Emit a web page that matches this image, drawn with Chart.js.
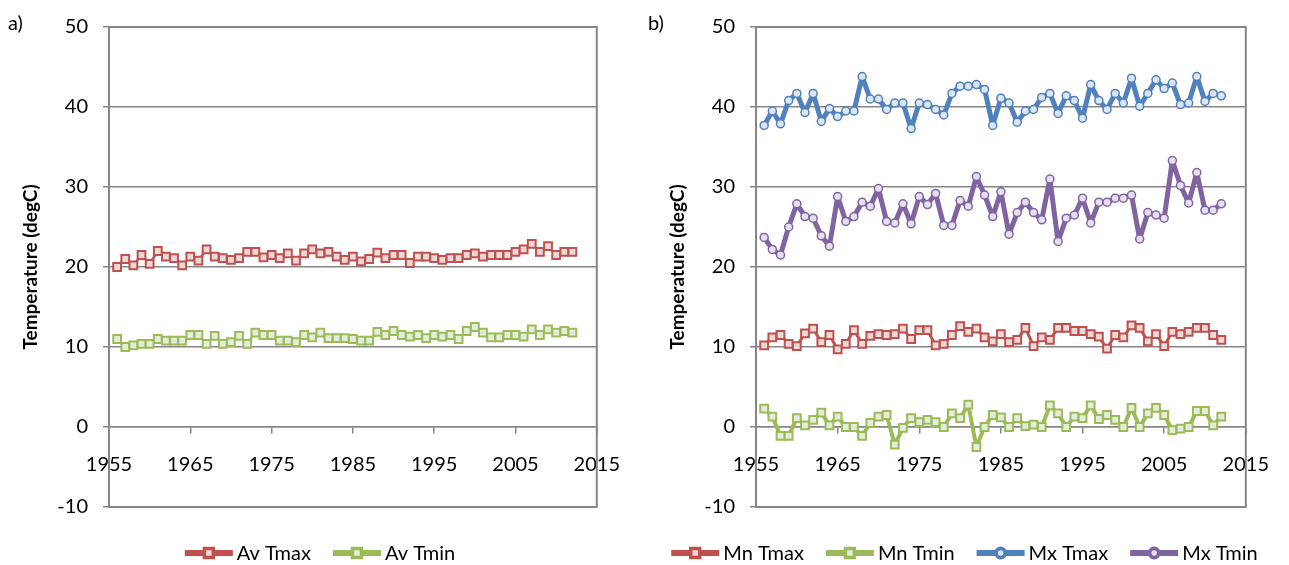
<!DOCTYPE html>
<html>
<head>
<meta charset="utf-8">
<script src="https://cdn.jsdelivr.net/npm/chart.js@4.4.1/dist/chart.umd.min.js"></script>
<style>
    html, body { margin: 0; padding: 0; background: #fff; }
    body { width: 1289px; height: 565px; position: relative; overflow: hidden; font-family: Lato, sans-serif; }
    .panel { position: absolute; top: 0; height: 565px; }
    #panel-a { left: 0; width: 640px; }
    #panel-b { left: 640px; width: 649px; }
    .tag { position: absolute; top: 12px; font-size: 20px; line-height: 20px; color: #000; }
</style>
</head>
<body>
<div class="panel" id="panel-a"><canvas id="chartA" width="640" height="565"></canvas></div>
<div class="panel" id="panel-b"><canvas id="chartB" width="649" height="565"></canvas></div>
<div class="tag" style="left:8px">a)</div>
<div class="tag" style="left:648px">b)</div>
<script>
// Years 1956 - 2012
const years = [1956, 1957, 1958, 1959, 1960, 1961, 1962, 1963, 1964, 1965,
    1966, 1967, 1968, 1969, 1970, 1971, 1972, 1973, 1974, 1975,
    1976, 1977, 1978, 1979, 1980, 1981, 1982, 1983, 1984, 1985,
    1986, 1987, 1988, 1989, 1990, 1991, 1992, 1993, 1994, 1995,
    1996, 1997, 1998, 1999, 2000, 2001, 2002, 2003, 2004, 2005,
    2006, 2007, 2008, 2009, 2010, 2011, 2012];

// a) annual averages
const avTmax = [20.0, 21.0, 20.2, 21.5, 20.4, 22.0, 21.3, 21.1, 20.2, 21.3,
    20.8, 22.2, 21.3, 21.1, 20.9, 21.1, 21.9, 21.9, 21.2, 21.5,
    21.1, 21.7, 20.8, 21.7, 22.2, 21.7, 21.9, 21.3, 20.9, 21.3,
    20.7, 21.0, 21.8, 21.1, 21.5, 21.5, 20.5, 21.3, 21.3, 21.1,
    20.9, 21.1, 21.1, 21.5, 21.7, 21.3, 21.5, 21.5, 21.5, 21.9,
    22.2, 22.9, 21.9, 22.6, 21.5, 21.9, 21.9];
const avTmin = [11.0, 10.0, 10.2, 10.4, 10.4, 11.0, 10.8, 10.8, 10.8, 11.5,
    11.5, 10.4, 11.4, 10.4, 10.6, 11.4, 10.4, 11.8, 11.5, 11.5,
    10.8, 10.8, 10.6, 11.5, 11.2, 11.8, 11.1, 11.1, 11.1, 11.0,
    10.8, 10.8, 11.9, 11.5, 12.0, 11.5, 11.3, 11.5, 11.1, 11.5,
    11.3, 11.5, 11.0, 12.0, 12.5, 11.8, 11.2, 11.2, 11.5, 11.5,
    11.3, 12.2, 11.5, 12.2, 11.8, 12.0, 11.8];

// b) minima and maxima
const mnTmax = [10.2, 11.2, 11.5, 10.4, 10.1, 11.7, 12.3, 10.6, 11.5, 9.7,
    10.4, 12.1, 10.4, 11.4, 11.6, 11.5, 11.6, 12.3, 11.0, 12.1,
    12.1, 10.2, 10.4, 11.5, 12.6, 11.9, 12.3, 11.2, 10.7, 11.6,
    10.6, 10.9, 12.4, 10.1, 11.2, 10.9, 12.4, 12.4, 12.0, 12.0,
    11.6, 11.3, 9.8, 11.5, 11.2, 12.7, 12.4, 10.7, 11.6, 10.1,
    11.9, 11.6, 11.9, 12.4, 12.4, 11.5, 10.9];
const mnTmin = [2.3, 1.3, -1.1, -1.1, 1.1, 0.2, 0.9, 1.8, 0.2, 1.3,
    0.0, 0.0, -1.1, 0.5, 1.3, 1.5, -2.2, -0.1, 1.1, 0.6,
    0.9, 0.6, 0.0, 1.7, 1.1, 2.8, -2.5, 0.0, 1.5, 1.2,
    0.0, 1.1, 0.1, 0.3, 0.0, 2.7, 1.7, 0.0, 1.3, 1.1,
    2.7, 1.0, 1.5, 0.9, 0.0, 2.4, 0.0, 1.7, 2.4, 1.5,
    -0.4, -0.2, 0.0, 2.0, 2.0, 0.2, 1.3];
const mxTmax = [37.7, 39.5, 37.9, 40.8, 41.7, 39.3, 41.7, 38.2, 39.8, 38.8,
    39.5, 39.5, 43.8, 41.0, 41.0, 39.7, 40.5, 40.5, 37.3, 40.5,
    40.3, 39.7, 39.0, 41.7, 42.6, 42.6, 42.8, 42.2, 37.7, 41.1,
    40.5, 38.1, 39.5, 39.7, 41.2, 41.7, 39.2, 41.4, 40.8, 38.6,
    42.8, 40.8, 39.7, 41.7, 40.5, 43.6, 40.1, 41.7, 43.4, 42.3,
    43.0, 40.3, 40.5, 43.8, 40.7, 41.7, 41.4];
const mxTmin = [23.7, 22.2, 21.5, 25.0, 27.9, 26.3, 26.1, 23.9, 22.6, 28.8,
    25.7, 26.3, 28.1, 27.6, 29.8, 25.7, 25.5, 27.9, 25.4, 28.8,
    27.8, 29.2, 25.2, 25.2, 28.3, 27.6, 31.3, 29.0, 26.3, 29.4,
    24.1, 26.8, 28.1, 26.8, 25.9, 31.0, 23.2, 26.1, 26.5, 28.6,
    25.5, 28.1, 28.1, 28.6, 28.6, 29.0, 23.5, 26.8, 26.5, 26.1,
    33.3, 30.2, 28.0, 31.8, 27.1, 27.1, 27.9];

const xTicks = { min: 1955, max: 2015, step: 10 };
const yTicks = { min: -10, max: 50, step: 10 };

const FONT = 'Lato';
const GRID = '#868686';

function pts(values) {
    return values.map((v, i) => ({ x: years[i], y: v }));
}

function series(label, values, color, fill, lineW, style, radius) {
    return {
        label: label,
        data: pts(values),
        borderColor: color,
        borderWidth: lineW,
        borderJoinStyle: 'round',
        pointStyle: style,
        pointRadius: radius,
        pointBorderWidth: style === 'rect' ? 2 : 1.5,
        pointBorderColor: color,
        pointBackgroundColor: fill,
        tension: 0
    };
}

// box around the plot area
const frame = {
    id: 'frame',
    beforeDatasetsDraw(chart) {
        const { ctx, chartArea: a } = chart;
        ctx.save();
        ctx.strokeStyle = GRID;
        ctx.lineWidth = 2;
        ctx.strokeRect(a.left, a.top, a.right - a.left, a.bottom - a.top);
        ctx.restore();
    }
};

// Excel style legend: line sample with marker, then label
const bottomLegend = {
    id: 'bottomLegend',
    afterDraw(chart) {
        const ctx = chart.ctx;
        const sets = chart.data.datasets;
        const lineLen = 48, gap = 4, itemGap = 22, y = 553;
        ctx.save();
        ctx.font = '20px ' + FONT;
        let total = 0;
        sets.forEach((d, i) => {
            total += lineLen + gap + ctx.measureText(d.label).width + (i ? itemGap : 0);
        });
        let x = (chart.width - total) / 2;
        sets.forEach((d, i) => {
            if (i) x += itemGap;
            ctx.strokeStyle = d.borderColor;
            ctx.lineWidth = 6;
            ctx.lineCap = 'butt';
            ctx.beginPath();
            ctx.moveTo(x, y);
            ctx.lineTo(x + lineLen, y);
            ctx.stroke();
            Chart.helpers.drawPoint(ctx, {
                pointStyle: d.pointStyle,
                radius: d.pointStyle === 'rect' ? 4.5 : 3.5,
                borderWidth: 1.5
            }, x + lineLen / 2, y);
            ctx.fillStyle = d.pointBackgroundColor;
            ctx.strokeStyle = d.borderColor;
            ctx.lineWidth = 1.5;
            ctx.beginPath();
            if (d.pointStyle === 'rect') {
                ctx.rect(x + lineLen / 2 - 3.5, y - 3.5, 7, 7);
            } else {
                ctx.arc(x + lineLen / 2, y, 3.5, 0, Math.PI * 2);
            }
            ctx.fill();
            ctx.stroke();
            x += lineLen + gap;
            ctx.fillStyle = '#000';
            ctx.textBaseline = 'middle';
            ctx.textAlign = 'left';
            ctx.fillText(d.label, x, y + 1);
            x += ctx.measureText(d.label).width;
        });
        ctx.restore();
    }
};

function makeChart(id, datasets, axisWidth, rightPad, titlePad) {
    return new Chart(document.getElementById(id), {
        type: 'line',
        data: { datasets: datasets },
        plugins: [frame, bottomLegend],
        options: {
            responsive: false,
            animation: false,
            layout: { padding: { top: 24, bottom: 58, left: 0, right: rightPad } },
            plugins: {
                legend: { display: false },
                tooltip: { enabled: false }
            },
            scales: {
                x: {
                    type: 'linear',
                    position: { y: 0 },
                    min: xTicks.min,
                    max: xTicks.max,
                    ticks: {
                        stepSize: xTicks.step,
                        padding: 20,
                        color: '#000',
                        maxRotation: 0,
                        autoSkip: false,
                        font: { family: FONT, size: 20 },
                        callback: v => String(v)
                    },
                    grid: { drawOnChartArea: false, drawTicks: true, tickLength: 6, color: GRID, lineWidth: 1.5 },
                    border: { display: true, color: GRID, width: 1.5 }
                },
                y: {
                    min: yTicks.min,
                    max: yTicks.max,
                    ticks: {
                        stepSize: yTicks.step,
                        padding: 15,
                        color: '#000',
                        font: { family: FONT, size: 20 }
                    },
                    grid: { color: GRID, lineWidth: 1.5, tickLength: 6 },
                    border: { color: GRID, width: 2 },
                    title: {
                        display: true,
                        text: 'Temperature (degC)',
                        color: '#000',
                        font: { family: FONT, size: 19, weight: 'bold' },
                        padding: { top: titlePad, bottom: 0 }
                    },
                    afterFit: s => { s.width = axisWidth; }
                }
            }
        }
    });
}

makeChart('chartA', [
    series('Av Tmax', avTmax, '#C0504D', '#EAD9D9', 2.5, 'rect', 5.5),
    series('Av Tmin', avTmin, '#9BBB59', '#E6ECDB', 2.5, 'rect', 5.5)
], 109, 32, 19);

makeChart('chartB', [
    series('Mn Tmax', mnTmax, '#C0504D', '#EAD9D9', 3, 'rect', 5.5),
    series('Mn Tmin', mnTmin, '#9BBB59', '#E6ECDB', 4, 'rect', 5.5),
    series('Mx Tmax', mxTmax, '#4F81BD', '#DCE6F2', 5, 'circle', 4),
    series('Mx Tmin', mxTmin, '#8064A2', '#E5E0EE', 5, 'circle', 4)
], 116, 36, 26);
</script>
</body>
</html>
